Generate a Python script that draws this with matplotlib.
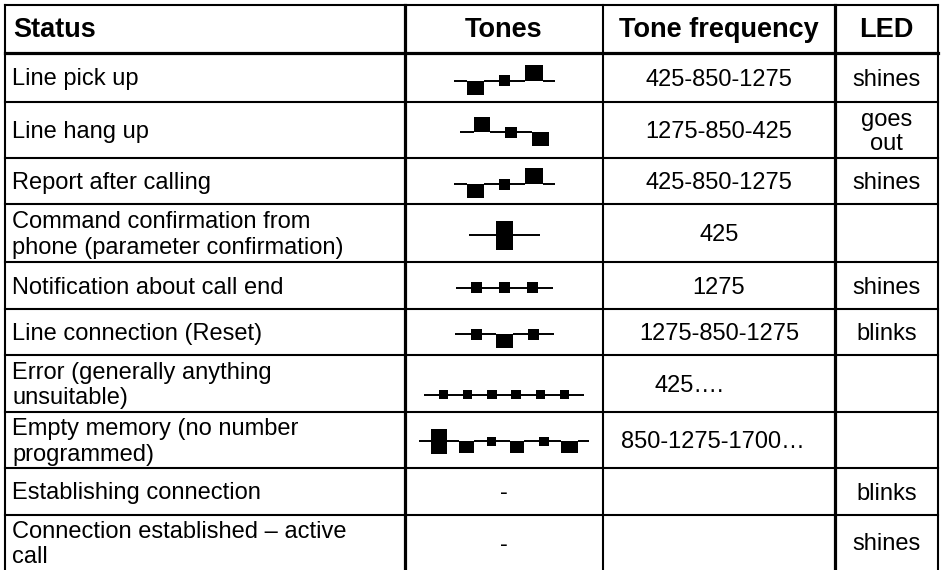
import matplotlib.pyplot as plt
from matplotlib.patches import Rectangle

plt.rcParams.update({
    'font.family': ['Liberation Sans', 'DejaVu Sans'],
    'font.size': 17,
})

headers = ['Status', 'Tones', 'Tone frequency', 'LED']
status = [
    'Line pick up',
    'Line hang up',
    'Report after calling',
    'Command confirmation from\nphone (parameter confirmation)',
    'Notification about call end',
    'Line connection (Reset)',
    'Error (generally anything\nunsuitable)',
    'Empty memory (no number\nprogrammed)',
    'Establishing connection',
    'Connection established \u2013 active\ncall',
]
frequency = ['425-850-1275', '1275-850-425', '425-850-1275', '425', '1275',
             '1275-850-1275', '425\u2026.', '850-1275-1700\u2026', '', '']
led = ['shines', 'goes\nout', 'shines', '', 'shines', 'blinks', '', '',
       'blinks', 'shines']

# tone pictograms as (kind, width, height) in px
# '-' line, 'L' box under the line, 'H' box over the line, 'C' box centred on it
pick_up = [('-', 13, 0), ('L', 17, 14), ('-', 15, 0), ('C', 11, 11),
           ('-', 15, 0), ('H', 18, 16), ('-', 12, 0)]
hang_up = [('-', 14, 0), ('H', 16, 15), ('-', 15, 0), ('C', 12, 11),
           ('-', 15, 0), ('L', 17, 14)]
confirm = [('-', 27, 0), ('C', 17, 29), ('-', 27, 0)]
call_end = [('-', 15, 0), ('C', 11, 11), ('-', 17, 0), ('C', 11, 11),
            ('-', 17, 0), ('C', 11, 11), ('-', 15, 0)]
reset = [('-', 16, 0), ('C', 11, 11), ('-', 14, 0), ('L', 17, 14),
         ('-', 15, 0), ('C', 11, 11), ('-', 15, 0)]
error = [('-', 14.7, 0)] + [('C', 9.5, 9), ('-', 14.7, 0)] * 6
empty = [('-', 12, 0), ('C', 16, 25), ('-', 12, 0), ('L', 15, 12),
         ('-', 13, 0), ('C', 9, 9), ('-', 14, 0), ('L', 14, 12),
         ('-', 15, 0), ('C', 10, 9), ('-', 12, 0), ('L', 17, 12),
         ('-', 11, 0)]
tones = [pick_up, hang_up, pick_up, confirm, call_end, reset, error, empty,
         '-', '-']

# table layout (pixels)
col_x = [5, 405, 603, 835, 938]
row_y = [5, 53, 102, 158, 204, 262, 309, 355, 412, 468, 515, 570]
icon_dy = [3, 2, 3, 2, 2, 2, 11, 1, 0, 0]
freq_dx = [0, 0, 0, 0, 0, 0, -30, -6, 0, 0]
text_dy = 2

fig = plt.figure(figsize=(9.42, 5.70), dpi=100)
ax = fig.add_axes([0, 0, 1, 1])
ax.set_xlim(0, 942)
ax.set_ylim(570, 0)
ax.axis('off')

# grid
thin = 1.5
thick = 2.3
ax.plot([col_x[0], col_x[-1]], [row_y[0]] * 2, color='black', lw=thin)
ax.plot([col_x[0], col_x[-1]], [row_y[1]] * 2, color='black', lw=thick)
for y in row_y[2:-1]:
    ax.plot([col_x[0], col_x[-1]], [y, y], color='black', lw=thin)
for x, w in zip(col_x, [thin, thick, thin, thick, thin]):
    ax.plot([x, x], [row_y[0], row_y[-1]], color='black', lw=w)

centers = [(a + b) / 2 for a, b in zip(col_x[:-1], col_x[1:])]

# header
hy = (row_y[0] + row_y[1]) / 2 + 1
ax.text(col_x[0] + 8, hy, headers[0], ha='left', va='center', weight='bold',
        fontsize=19.5)
for j in range(1, 4):
    ax.text(centers[j], hy, headers[j], ha='center', va='center',
            weight='bold', fontsize=19.5)

for i in range(len(status)):
    yc = (row_y[i + 1] + row_y[i + 2]) / 2
    ty = yc + text_dy
    ax.text(col_x[0] + 7, ty, status[i], ha='left', va='center', linespacing=1.2)
    ax.text(centers[2] + freq_dx[i], ty, frequency[i], ha='center', va='center')
    ax.text(centers[3], ty, led[i], ha='center', va='center', linespacing=1.1)

    pattern = tones[i]
    if isinstance(pattern, str):
        ax.text(centers[1], ty, pattern, ha='center', va='center')
        continue
    base = yc + icon_dy[i]
    x = centers[1] - sum(p[1] for p in pattern) / 2
    for kind, w, h in pattern:
        if kind == '-':
            ax.plot([x, x + w], [base, base], color='black', lw=1.4,
                    solid_capstyle='butt')
        else:
            if kind == 'L':
                y0 = base
            elif kind == 'H':
                y0 = base - h
            else:
                y0 = base - h / 2
            ax.add_patch(Rectangle((x, y0), w, h, facecolor='black',
                                   edgecolor='none'))
        x += w

fig.savefig('out.png', dpi=100)
